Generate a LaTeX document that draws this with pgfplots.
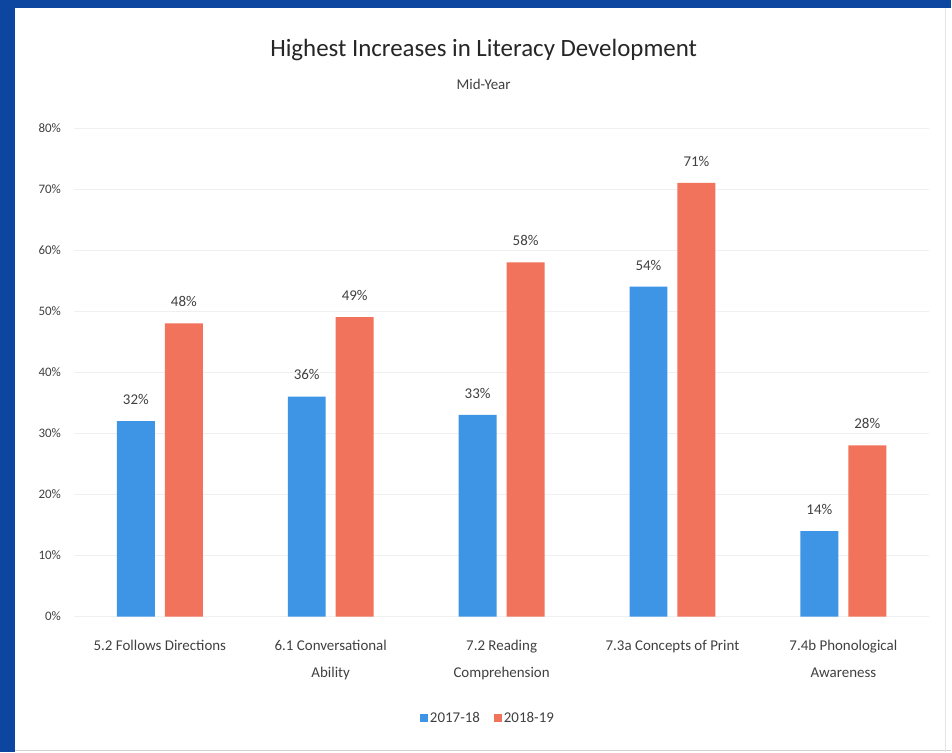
\documentclass[border=0pt]{standalone}
\usepackage{pgfplots}
\pgfplotsset{compat=1.18}
\usepackage{fontspec}
\setmainfont{Carlito}
\definecolor{frameblue}{HTML}{0D46A0}
\definecolor{barblue}{HTML}{3E95E6}
\definecolor{barred}{HTML}{F2735C}
\definecolor{txtgray}{HTML}{404040}
\begin{document}
\begin{tikzpicture}[x=1bp,y=1bp]
  \fill[frameblue] (0,0) rectangle (952,753);
  \fill[white] (15,0) rectangle (952,745);
  \draw[gray!35, line width=1.5bp] (15,2) -- (952,2);
  \draw[gray!20, line width=1bp] (946,0) -- (946,745);
  \node[font=\fontsize{25}{27}\selectfont, text=black!85] at (484,703) {Highest Increases in Literacy Development};
  \node[font=\fontsize{15}{17}\selectfont, text=txtgray] at (484,669) {Mid-Year};
  \begin{axis}[
    at={(74.5bp,136bp)}, anchor=south west,
    scale only axis,
    width=855bp, height=489bp,
    ybar=10bp, bar width=38bp,
    xmin=-0.5, xmax=4.5,
    ymin=0, ymax=80,
    ytick={0,10,...,80},
    yticklabel={\pgfmathprintnumber{\tick}\%},
    /pgf/number format/assume math mode=true,
    xtick=data,
    xticklabels={5.2 Follows Directions, {6.1 Conversational\\Ability}, {7.2 Reading\\Comprehension}, 7.3a Concepts of Print, {7.4b Phonological\\Awareness}},
    xticklabel style={align=center, font=\fontsize{15}{27}\selectfont, text=txtgray, yshift=-20bp},
    yticklabel style={font=\fontsize{13}{15}\selectfont, text=txtgray, xshift=-10bp},
    major tick length=0pt,
    axis line style={draw=none},
    ymajorgrids, grid style={gray!12},
    nodes near coords={\pgfmathprintnumber{\pgfplotspointmeta}\%},
    nodes near coords style={font=\fontsize{15}{17}\selectfont, text=txtgray, yshift=13bp},
    legend style={at={(0.484,-0.207)}, anchor=center, draw=none, legend columns=2,
      font=\fontsize{15}{17}\selectfont, text=txtgray,
      /tikz/every even column/.append style={column sep=12bp}},
    legend image code/.code={\fill[#1] (0bp,-4bp) rectangle (8bp,4bp);},
  ]
    \addplot[fill=barblue, draw=none] coordinates {(0,32) (1,36) (2,33) (3,54) (4,14)};
    \addplot[fill=barred, draw=none] coordinates {(0,48) (1,49) (2,58) (3,71) (4,28)};
    \legend{2017-18, 2018-19}
  \end{axis}
\end{tikzpicture}
\end{document}
